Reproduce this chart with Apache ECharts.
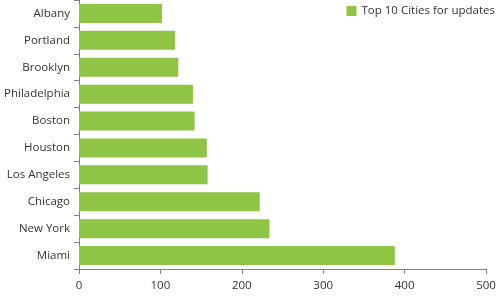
<!DOCTYPE html>
<html>
<head>
<meta charset="utf-8">
<script src="https://cdn.jsdelivr.net/npm/echarts@6/dist/echarts.min.js"></script>
<style>html,body{margin:0;padding:0;background:#fff}#c{width:500px;height:300px}</style>
</head>
<body>
<div id="c"></div>
<script>
var categories = ["Albany","Portland","Brooklyn","Philadelphia","Boston","Houston","Los Angeles","Chicago","New York","Miami"];
var values = [102, 118, 122, 140, 142, 157, 158, 222, 234, 388];
var seriesName = "Top 10 Cities for updates";
var xTicks = [0, 100, 200, 300, 400, 500];

var chart = echarts.init(document.getElementById('c'), null, {renderer: 'canvas'});
var font = '"Open Sans", "Noto Sans", sans-serif';
chart.setOption({
  animation: false,
  textStyle: {fontFamily: font},
  legend: {
    show: true,
    right: 0, top: 0,
    itemWidth: 10, itemHeight: 10, itemGap: 4,
    icon: 'rect',
    textStyle: {color: '#333', fontSize: 11.5, fontFamily: font},
    data: [seriesName]
  },
  grid: {left: 79, right: 14, top: 0, bottom: 31, containLabel: false},
  xAxis: {
    type: 'value',
    min: xTicks[0], max: xTicks[xTicks.length - 1], interval: 100,
    axisLine: {show: true, lineStyle: {color: '#808080', width: 1}},
    axisTick: {show: true, length: 5, lineStyle: {color: '#808080'}},
    splitLine: {show: false},
    axisLabel: {color: '#333', fontSize: 11.5, margin: 11, fontFamily: font}
  },
  yAxis: {
    type: 'category',
    inverse: true,
    data: categories,
    axisLine: {show: true, lineStyle: {color: '#808080', width: 1}},
    axisTick: {show: true, length: 5, lineStyle: {color: '#808080'}},
    axisLabel: {color: '#333', fontSize: 11.5, margin: 9, fontFamily: font, padding: [2, 0, 0, 0]}
  },
  series: [{
    name: seriesName,
    type: 'bar',
    data: values,
    barWidth: 19,
    itemStyle: {color: '#8fc444'}
  }]
});
</script>
</body>
</html>
